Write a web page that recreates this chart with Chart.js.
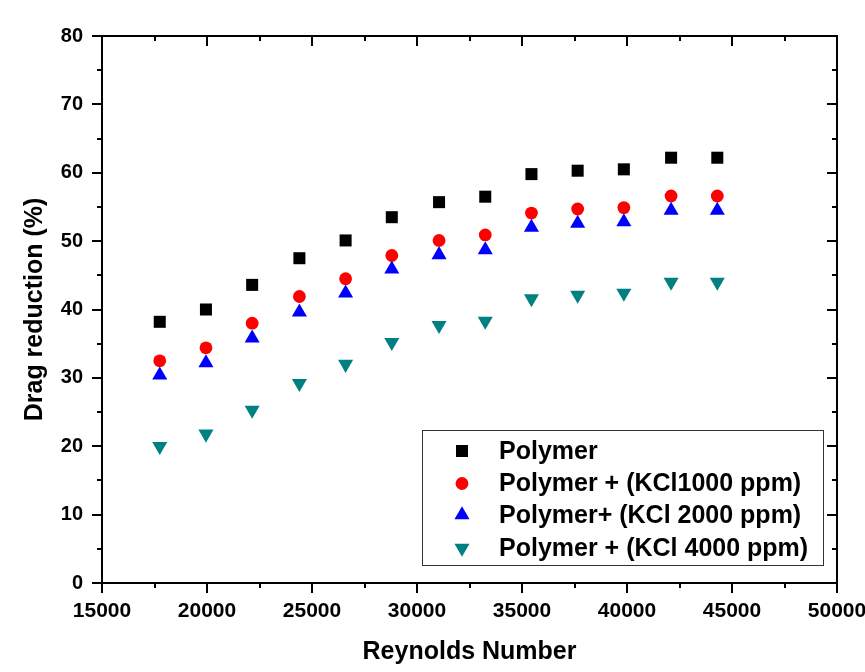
<!DOCTYPE html>
<html lang="en">
  <head>
    <meta charset="UTF-8" />
    <title>Drag reduction vs Reynolds number</title>
    <script src="https://cdn.jsdelivr.net/npm/chart.js"></script>
    <style>
      body { margin: 0; background: #fff; }
      canvas { display: block; }
    </style>
  </head>
  <body>
    <canvas id="drag-chart" width="865" height="672"></canvas>

    <script>
      // Reynolds number for each run
      const reynolds = [17750, 19950, 22150, 24400, 26600, 28800, 31050, 33250, 35450, 37650, 39850, 42100, 44300];

      // drag reduction (%) per fluid
      const polymer = [38.2, 40.0, 43.6, 47.5, 50.1, 53.5, 55.7, 56.5, 59.8, 60.3, 60.5, 62.2, 62.2];
      const kcl1000 = [32.5, 34.4, 38.0, 41.9, 44.5, 47.9, 50.1, 50.9, 54.1, 54.7, 54.9, 56.6, 56.6];
      const kcl2000 = [30.4, 32.2, 35.8, 39.6, 42.4, 45.9, 48.0, 48.7, 52.0, 52.6, 52.8, 54.5, 54.5];
      const kcl4000 = [20.0, 21.8, 25.3, 29.2, 32.0, 35.2, 37.7, 38.3, 41.6, 42.1, 42.4, 44.0, 44.0];

      const seriesNames = ["Polymer", "Polymer + (KCl1000 ppm)", "Polymer+ (KCl 2000 ppm)", "Polymer + (KCl 4000 ppm)"];

      const xTicks = [15000, 20000, 25000, 30000, 35000, 40000, 45000, 50000];
      const yTicks = [0, 10, 20, 30, 40, 50, 60, 70, 80];

      const FONT = '"Liberation Sans", Arial, sans-serif';

      const toPoints = (ys) => ys.map((y, i) => ({ x: reynolds[i], y: y }));

      // frame with outward ticks on left/bottom, inward on top/right
      const framePlugin = {
        id: "frame",
        afterDraw(chart) {
          const ctx = chart.ctx;
          const a = chart.chartArea;
          const xs = chart.scales.x;
          const ys = chart.scales.y;
          ctx.save();
          ctx.strokeStyle = "#000";
          ctx.lineWidth = 2;
          ctx.strokeRect(a.left, a.top, a.right - a.left, a.bottom - a.top);
          ctx.beginPath();
          for (let v = xs.min; v <= xs.max; v += 2500) {
            const px = Math.round(xs.getPixelForValue(v));
            const len = v % 5000 === 0 ? 10 : 5;
            ctx.moveTo(px, a.bottom);
            ctx.lineTo(px, a.bottom + len);
            ctx.moveTo(px, a.top);
            ctx.lineTo(px, a.top + len);
          }
          for (let v = ys.min; v <= ys.max; v += 5) {
            const py = Math.round(ys.getPixelForValue(v));
            const len = v % 10 === 0 ? 10 : 5;
            ctx.moveTo(a.left, py);
            ctx.lineTo(a.left - len, py);
            ctx.moveTo(a.right, py);
            ctx.lineTo(a.right - len, py);
          }
          ctx.stroke();
          ctx.restore();
        },
      };

      // boxed legend in the lower right of the plot
      const legendBoxPlugin = {
        id: "legendBox",
        afterDraw(chart) {
          const ctx = chart.ctx;
          const box = { left: 422, top: 430, right: 823, bottom: 565 };
          ctx.save();
          ctx.fillStyle = "#fff";
          ctx.fillRect(box.left, box.top, box.right - box.left, box.bottom - box.top);
          ctx.strokeStyle = "#333";
          ctx.lineWidth = 1;
          ctx.strokeRect(box.left + 0.5, box.top + 0.5, box.right - box.left, box.bottom - box.top);
          ctx.font = "bold 25px " + FONT;
          ctx.textBaseline = "middle";
          ctx.textAlign = "left";
          const rows = [451, 483.5, 515, 548];
          chart.data.datasets.forEach((ds, i) => {
            ctx.fillStyle = ds.backgroundColor;
            ctx.strokeStyle = ds.backgroundColor;
            Chart.helpers.drawPoint(ctx, {
              pointStyle: ds.pointStyle,
              radius: ds.pointRadius,
              rotation: ds.rotation || 0,
              borderWidth: 0,
            }, 462, rows[i]);
            ctx.fillStyle = "#000";
            ctx.fillText(ds.label, 499, rows[i] + 1);
          });
          ctx.restore();
        },
      };

      new Chart(document.getElementById("drag-chart"), {
        type: "scatter",
        data: {
          datasets: [
            {
              label: seriesNames[0],
              data: toPoints(polymer),
              pointStyle: "rect",
              pointRadius: 8.5,
              backgroundColor: "#000000",
              borderWidth: 0,
              order: 4,
            },
            {
              label: seriesNames[1],
              data: toPoints(kcl1000),
              pointStyle: "circle",
              pointRadius: 6.4,
              backgroundColor: "#ff0000",
              borderWidth: 0,
              order: 3,
            },
            {
              label: seriesNames[2],
              data: toPoints(kcl2000),
              pointStyle: "triangle",
              pointRadius: 8.7,
              backgroundColor: "#0000ff",
              borderWidth: 0,
              order: 2,
            },
            {
              label: seriesNames[3],
              data: toPoints(kcl4000),
              pointStyle: "triangle",
              rotation: 180,
              pointRadius: 8.7,
              backgroundColor: "#008080",
              borderWidth: 0,
              order: 1,
            },
          ],
        },
        options: {
          responsive: false,
          animation: false,
          layout: { padding: { top: 36, right: 28, left: 0, bottom: 0 } },
          plugins: {
            legend: { display: false },
            tooltip: { enabled: false },
          },
          scales: {
            x: {
              type: "linear",
              min: 15000,
              max: 50000,
              afterBuildTicks: (scale) => {
                scale.ticks = xTicks.map((v) => ({ value: v }));
              },
              afterFit: (scale) => {
                scale.height = 89;
                // let the end labels run to the canvas edge
                scale.paddingLeft = 0;
                scale.paddingRight = 0;
              },
              grid: { display: false, drawTicks: false },
              border: { display: false },
              ticks: {
                padding: 16,
                maxRotation: 0,
                color: "#000",
                font: { family: FONT, size: 21, weight: "bold" },
                callback: (v) => v,
              },
              title: {
                display: true,
                text: "Reynolds Number",
                color: "#000",
                padding: { top: 0, bottom: 5 },
                font: { family: FONT, size: 25, weight: "bold" },
              },
            },
            y: {
              type: "linear",
              min: 0,
              max: 80,
              afterBuildTicks: (scale) => {
                scale.ticks = yTicks.map((v) => ({ value: v }));
              },
              afterFit: (scale) => {
                scale.width = 102;
                scale.paddingTop = 0;
                scale.paddingBottom = 0;
              },
              grid: { display: false, drawTicks: false },
              border: { display: false },
              ticks: {
                padding: 19,
                color: "#000",
                font: { family: FONT, size: 20, weight: "bold" },
              },
              title: {
                display: true,
                text: "Drag reduction (%)",
                color: "#000",
                padding: { top: 20, bottom: 0 },
                font: { family: FONT, size: 25, weight: "bold" },
              },
            },
          },
        },
        plugins: [framePlugin, legendBoxPlugin],
      });
    </script>
  </body>
</html>
